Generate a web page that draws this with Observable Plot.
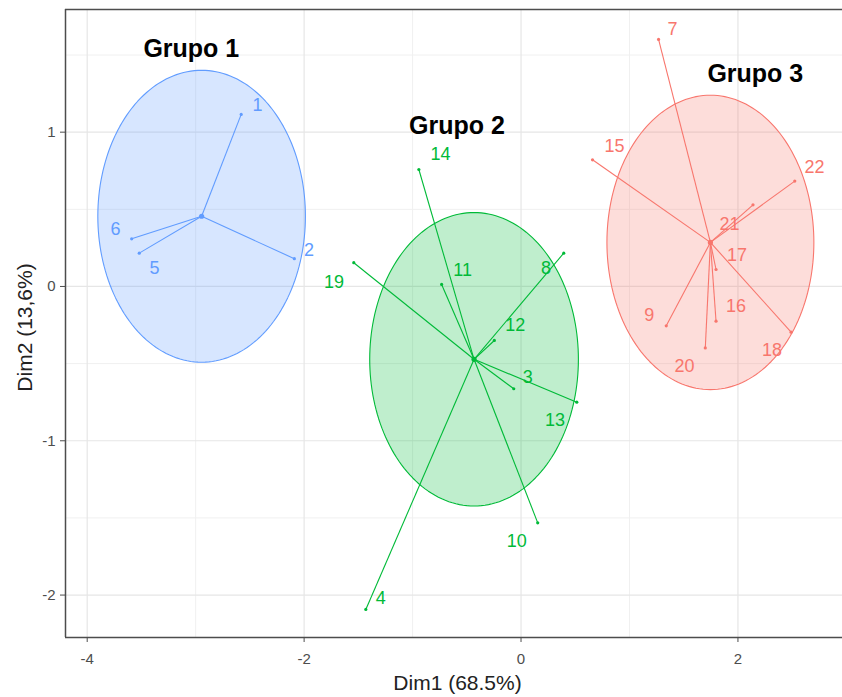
<!DOCTYPE html>
<html>
<head>
<meta charset="utf-8">
<script src="https://cdn.jsdelivr.net/npm/d3@7"></script>
<script src="https://cdn.jsdelivr.net/npm/@observablehq/plot@0.6"></script>
<style>
  body { margin: 0; background: #fff; }
  svg { display: block; }
</style>
</head>
<body>
<div id="chart"></div>
<script>
// Cluster membership and coordinates on the first two principal dimensions
const groupNames = ["Grupo 1", "Grupo 2", "Grupo 3"];
const groupColors = ["#619CFF", "#00BA38", "#F8766D"];

const g1Ids  = ["1", "2", "5", "6"];
const g1Dim1 = [-2.58, -2.09, -3.52, -3.59];
const g1Dim2 = [1.115, 0.180, 0.216, 0.309];
const g1LabelDim1 = [-2.43, -1.955, -3.38, -3.74];
const g1LabelDim2 = [1.173, 0.238, 0.115, 0.374];

const g2Ids  = ["14", "19", "11", "8", "12", "3", "13", "10", "4"];
const g2Dim1 = [-0.942, -1.542, -0.732, 0.394, -0.246, -0.067, 0.514, 0.154, -1.431];
const g2Dim2 = [0.758, 0.154, 0.013, 0.216, -0.350, -0.663, -0.750, -1.532, -2.093];
const g2LabelDim1 = [-0.742, -1.724, -0.538, 0.231, -0.053, 0.062, 0.314, -0.040, -1.293];
const g2LabelDim2 = [0.855, 0.028, 0.108, 0.119, -0.248, -0.588, -0.868, -1.651, -2.022];

const g3Ids  = ["7", "15", "22", "21", "17", "16", "9", "20", "18"];
const g3Dim1 = [1.268, 0.659, 2.524, 2.139, 1.798, 1.798, 1.339, 1.699, 2.490];
const g3Dim2 = [1.601, 0.821, 0.683, 0.529, 0.110, -0.225, -0.255, -0.398, -0.296];
const g3LabelDim1 = [1.397, 0.862, 2.705, 1.923, 1.992, 1.982, 1.182, 1.508, 2.315];
const g3LabelDim2 = [1.670, 0.907, 0.773, 0.406, 0.201, -0.130, -0.188, -0.518, -0.415];

// Ellipse half-widths (Dim1) and half-heights (Dim2) around each cluster centre
const ellipseRadiusDim1 = [0.957, 0.962, 0.954];
const ellipseRadiusDim2 = [0.946, 0.951, 0.954];

// Group title anchors (text centre, baseline)
const titleDim1 = [-3.04, -0.59, 2.16];
const titleDim2 = [1.49, 0.99, 1.324];

const xLabel = "Dim1 (68.5%)";
const yLabel = "Dim2 (13,6%)";
const xTicks = [-4, -2, 0, 2];
const yTicks = [-2, -1, 0, 1];
const xMinorGrid = [-3, -1, 1];
const yMinorGrid = [-1.5, -0.5, 0.5, 1.5];
const xDomain = [-4.2, 2.964];
const yDomain = [-2.275, 1.795];

// ---- build tables ----
const groupsRaw = [
  {ids: g1Ids, d1: g1Dim1, d2: g1Dim2, l1: g1LabelDim1, l2: g1LabelDim2},
  {ids: g2Ids, d1: g2Dim1, d2: g2Dim2, l1: g2LabelDim1, l2: g2LabelDim2},
  {ids: g3Ids, d1: g3Dim1, d2: g3Dim2, l1: g3LabelDim1, l2: g3LabelDim2}
];

const points = [];
const centers = [];
groupsRaw.forEach((g, gi) => {
  const cx = d3.mean(g.d1), cy = d3.mean(g.d2);
  centers.push({group: groupNames[gi], gi, x: cx, y: cy});
  g.ids.forEach((id, i) => {
    points.push({
      group: groupNames[gi], gi, id,
      x: g.d1[i], y: g.d2[i],
      lx: g.l1[i], ly: g.l2[i],
      cx, cy
    });
  });
});

// outline of each cluster ellipse, sampled around its centre
const ellipses = centers.map(c => d3.range(0, 361, 2).map(a => {
  const t = a * Math.PI / 180;
  return {
    group: c.group,
    x: c.x + ellipseRadiusDim1[c.gi] * Math.cos(t),
    y: c.y + ellipseRadiusDim2[c.gi] * Math.sin(t)
  };
}));

const titles = groupNames.map((name, i) => ({name, x: titleDim1[i], y: titleDim2[i]}));
const colorOf = d => groupColors[d.gi];

const font = "'Liberation Sans', Arial, Helvetica, sans-serif";

const chart = Plot.plot({
  width: 842,
  height: 697,
  marginLeft: 65,
  marginRight: 0,
  marginTop: 9,
  marginBottom: 60,
  style: {fontFamily: font, background: "#fff", overflow: "visible"},
  x: {domain: xDomain},
  y: {domain: yDomain},
  marks: [
    // background grid
    Plot.ruleX(xMinorGrid, {stroke: "#F0F0F0", strokeWidth: 1}),
    Plot.ruleY(yMinorGrid, {stroke: "#F0F0F0", strokeWidth: 1}),
    Plot.ruleX(xTicks, {stroke: "#E6E6E6", strokeWidth: 1.2}),
    Plot.ruleY(yTicks, {stroke: "#E6E6E6", strokeWidth: 1.2}),

    // cluster ellipses
    ...ellipses.map((e, i) => Plot.line(e, {
      x: "x", y: "y",
      fill: groupColors[i], fillOpacity: 0.25,
      stroke: groupColors[i], strokeWidth: 1.1
    })),

    // spokes from cluster centre to each observation
    Plot.link(points, {x1: "cx", y1: "cy", x2: "x", y2: "y", stroke: colorOf, strokeWidth: 1.1}),
    Plot.dot(points, {x: "x", y: "y", r: 1.6, fill: colorOf, stroke: null}),
    Plot.dot(centers, {x: "x", y: "y", r: 2.6, fill: colorOf, stroke: null}),

    // observation labels
    Plot.text(points, {
      x: "lx", y: "ly", text: "id", fill: colorOf,
      fontSize: 18, textAnchor: "middle", lineAnchor: "middle"
    }),

    // group titles
    Plot.text(titles, {
      x: "x", y: "y", text: "name", fill: "#000",
      fontSize: 25, fontWeight: "bold", textAnchor: "middle", lineAnchor: "bottom"
    }),

    // panel border (open on the right)
    Plot.ruleX([xDomain[0]], {stroke: "#4D4D4D", strokeWidth: 1.5}),
    Plot.ruleY([yDomain[0], yDomain[1]], {stroke: "#4D4D4D", strokeWidth: 1.5}),

    // axes
    Plot.axisX({
      ticks: xTicks, tickFormat: d => String(d), tickSize: 5, tickPadding: 11,
      fontSize: 15, color: "#4D4D4D", label: null
    }),
    Plot.axisY({
      ticks: yTicks, tickFormat: d => String(d), tickSize: 5, tickPadding: 5,
      fontSize: 15, color: "#4D4D4D", label: null
    }),

    // axis titles
    Plot.text([xLabel], {
      text: d => d, frameAnchor: "bottom", dx: 3.5, dy: 52,
      fontSize: 21, fill: "#222", lineAnchor: "bottom", textAnchor: "middle"
    }),
    Plot.text([yLabel], {
      text: d => d, frameAnchor: "left", dx: -34, dy: 4, rotate: -90,
      fontSize: 21, fill: "#222", lineAnchor: "bottom", textAnchor: "middle"
    })
  ]
});

document.getElementById("chart").appendChild(chart);
</script>
</body>
</html>
